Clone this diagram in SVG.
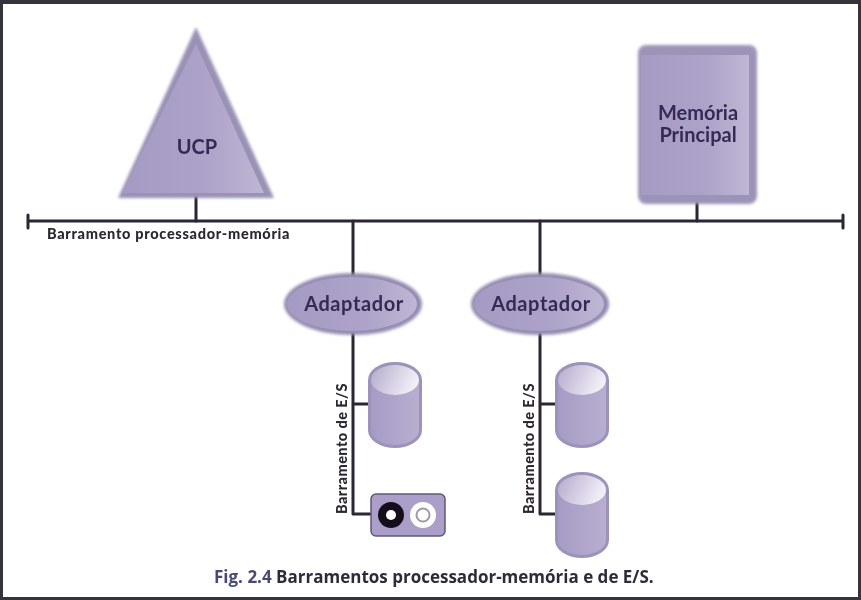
<svg xmlns="http://www.w3.org/2000/svg" width="861" height="600" viewBox="0 0 861 600">
<style>
.bus{fill:none;stroke:#2b2733;stroke-width:3;stroke-linejoin:round;stroke-linecap:round}
.lab{font-family:"Lato","Noto Sans",sans-serif;font-weight:700;fill:#352c55;text-anchor:middle}
.small{font-family:"Lato","Noto Sans",sans-serif;font-weight:900;fill:#2b2733;font-size:14.5px;letter-spacing:.7px}
.cap{font-family:"Open Sans","Noto Sans",sans-serif;font-weight:700;font-size:17px;fill:#2f2c3a}
</style>
<defs>
<linearGradient id="body" x1="0" y1="0" x2="1" y2="0"><stop offset="0" stop-color="#a59ac3"/><stop offset="0.6" stop-color="#ada2c8"/><stop offset="1" stop-color="#bfb6d4"/></linearGradient>
<linearGradient id="cyl" x1="0" y1="0" x2="1" y2="0"><stop offset="0" stop-color="#a69bc4"/><stop offset="1" stop-color="#b8aed0"/></linearGradient>
<linearGradient id="cap" x1="0" y1="0" x2="1" y2="0.3"><stop offset="0" stop-color="#b4aacb"/><stop offset="1" stop-color="#f1eef7"/></linearGradient>
<filter id="s" x="-20%" y="-20%" width="140%" height="140%"><feGaussianBlur stdDeviation="1.6"/></filter>
<filter id="s2" x="-20%" y="-20%" width="140%" height="140%"><feGaussianBlur stdDeviation="0.7"/></filter>
<filter id="t" x="-10%" y="-30%" width="120%" height="160%"><feGaussianBlur stdDeviation="0.35"/></filter>
</defs>
<rect width="861" height="600" fill="#ffffff"/>
<path d="M0 0H861V600H0Z M3 4V597H858V4Z" fill="#34343a" fill-rule="evenodd"/>
<g id="connectors" filter="url(#s2)">
<path class="bus" d="M28 221H843M28 215V228M843 215V228"/>
<path class="bus" d="M196 197V221M697 203V221M353 221V276M540 221V276"/>
<path class="bus" d="M353 334V514H370M353 404H369M540 334V514H556M540 404H556"/>
</g>
<g id="ucp">
<path d="M196 27L274 198H118Z" fill="#9a91b5" filter="url(#s)"/>
<path d="M196 44L264 193H122Z" fill="url(#body)" filter="url(#s2)"/>
<text class="lab" x="197" y="154" font-size="20" filter="url(#t)">UCP</text>
</g>
<g id="memoria">
<rect x="638" y="45" width="119" height="159" rx="8" fill="#9d93b8" filter="url(#s)"/>
<rect x="641" y="55" width="108" height="140" fill="url(#body)" filter="url(#s2)"/>
<text class="lab" x="698" y="120" font-size="20" filter="url(#t)">Memória</text>
<text class="lab" x="698" y="142" font-size="20" filter="url(#t)">Principal</text>
</g>
<g id="adaptador1">
<ellipse cx="353" cy="304" rx="69" ry="31" fill="#948bb0" filter="url(#s)"/>
<ellipse cx="352" cy="304" rx="65" ry="27" fill="url(#body)" filter="url(#s2)"/>
<text class="lab" x="354" y="311" font-size="20" letter-spacing=".6" filter="url(#t)">Adaptador</text>
</g>
<g id="adaptador2">
<ellipse cx="540" cy="304" rx="69" ry="31" fill="#948bb0" filter="url(#s)"/>
<ellipse cx="539" cy="304" rx="65" ry="27" fill="url(#body)" filter="url(#s2)"/>
<text class="lab" x="541" y="311" font-size="20" letter-spacing=".6" filter="url(#t)">Adaptador</text>
</g>
<g id="disco1" filter="url(#s2)">
<path d="M368 380A27 18 0 0 1 422 380V430A27 18 0 0 1 368 430Z" fill="#9d93ba"/>
<path d="M371 381A24 15 0 0 1 419 381V430A24 15 0 0 1 371 430Z" fill="url(#cyl)"/>
<ellipse cx="395" cy="380" rx="24" ry="15" fill="url(#cap)"/>
</g>
<g id="disco2" filter="url(#s2)">
<path d="M555 380A27 18 0 0 1 609 380V430A27 18 0 0 1 555 430Z" fill="#9d93ba"/>
<path d="M558 381A24 15 0 0 1 606 381V430A24 15 0 0 1 558 430Z" fill="url(#cyl)"/>
<ellipse cx="582" cy="380" rx="24" ry="15" fill="url(#cap)"/>
</g>
<g id="disco3" filter="url(#s2)">
<path d="M555 490A27 18 0 0 1 609 490V540A27 18 0 0 1 555 540Z" fill="#9d93ba"/>
<path d="M558 491A24 15 0 0 1 606 491V540A24 15 0 0 1 558 540Z" fill="url(#cyl)"/>
<ellipse cx="582" cy="490" rx="24" ry="15" fill="url(#cap)"/>
</g>
<g id="fita" filter="url(#s2)">
<rect x="371" y="494" width="74" height="42" rx="5" fill="#ab9fc9" stroke="#5f5878" stroke-width="1.5"/>
<circle cx="391" cy="515" r="13" fill="#14101e"/>
<circle cx="391" cy="515" r="5" fill="#ffffff"/>
<circle cx="423" cy="515" r="13" fill="#ffffff"/>
<circle cx="423" cy="515" r="6.5" fill="none" stroke="#9f9aa8" stroke-width="2"/>
</g>
<text class="small" x="47" y="239" filter="url(#t)">Barramento processador-memória</text>
<text class="small" style="letter-spacing:.45px" transform="translate(347 514) rotate(-90)" filter="url(#t)">Barramento de E/S</text>
<text class="small" style="letter-spacing:.45px" transform="translate(534 514) rotate(-90)" filter="url(#t)">Barramento de E/S</text>
<text class="cap" x="214" y="583" filter="url(#t)"><tspan fill="#4a4a78">Fig. 2.4</tspan> Barramentos processador-memória e de E/S.</text>
</svg>
